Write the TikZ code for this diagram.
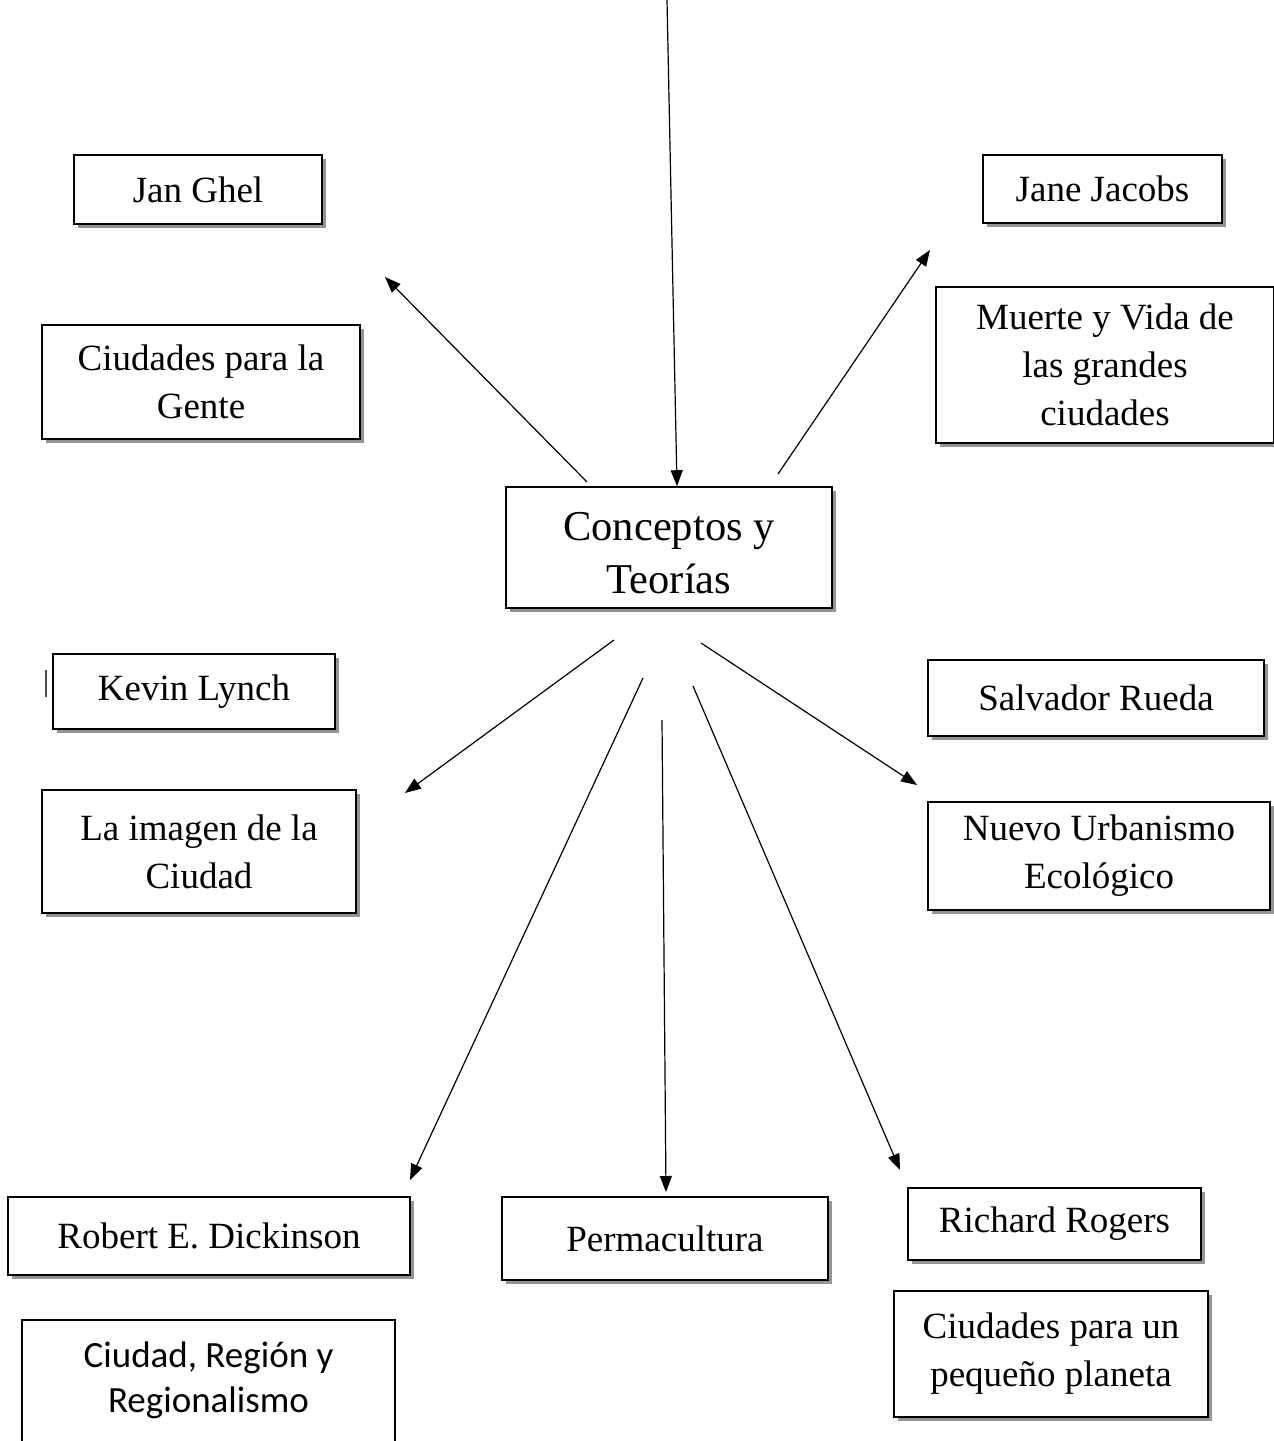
\documentclass[tikz,border=0pt]{standalone}
\usepackage{fontspec}
\setmainfont{Liberation Serif}
\newfontfamily\calibri{Carlito}
\usetikzlibrary{arrows.meta,shadows}

\begin{document}
\begin{tikzpicture}[x=1pt, y=-1pt,
  cbox/.style={draw, line width=1.6pt, fill=white, align=center, inner sep=0pt,
    font=\fontsize{37}{48}\selectfont,
    drop shadow={shadow xshift=4pt, shadow yshift=-4pt, fill=black!70, opacity=0.6}},
  plainbox/.style={draw, line width=1.6pt, fill=white, align=center, inner sep=0pt,
    font=\calibri\fontsize{37}{45}\selectfont},
  link/.style={line width=1.2pt, -{Triangle[length=16pt, width=12pt]}}]
\useasboundingbox (0,0) rectangle (1274,1441);
\node[cbox, minimum width=326, minimum height=121, font=\fontsize{42.5}{53}\selectfont] (cpt) at (669,547.5) {\raisebox{-9pt}[\height][\depth]{\begin{tabular}{@{}c@{}}Conceptos y\\Teorías\end{tabular}}};
\node[cbox, minimum width=248, minimum height=69] (jan) at (198,189.5) {Jan Ghel};
\node[cbox, minimum width=318, minimum height=114] (gente) at (201,382) {Ciudades para la\\Gente};
\node[cbox, minimum width=239, minimum height=68] (jane) at (1102.5,189) {Jane Jacobs};
\node[cbox, minimum width=338, minimum height=156] (muerte) at (1105,365) {Muerte y Vida de\\las grandes\\ciudades};
\node[cbox, minimum width=282, minimum height=75] (kevin) at (194,691.5) {Kevin Lynch};
\node[cbox, minimum width=314, minimum height=123] (imagen) at (199,851.5) {La imagen de la\\Ciudad};
\node[cbox, minimum width=336, minimum height=76] (rueda) at (1096,698) {Salvador Rueda};
\node[cbox, minimum width=342, minimum height=108] (nuevo) at (1099,856) {Nuevo Urbanismo\\Ecológico};
\node[cbox, minimum width=402, minimum height=78] (robert) at (209,1236) {Robert E. Dickinson};
\node[cbox, minimum width=326, minimum height=83] (perma) at (665,1238.5) {Permacultura};
\node[cbox, minimum width=293, minimum height=72] (rogers) at (1054.5,1224) {Richard Rogers};
\node[cbox, minimum width=314, minimum height=126] (planeta) at (1051,1354) {Ciudades para un\\pequeño planeta};
\node[plainbox, minimum width=373, minimum height=160] (region) at (208.5,1400) {Ciudad, Región y\\Regionalismo\\\mbox{}};
\draw[line width=1.5pt, black!70] (46,670) -- (46,697);
\coordinate (top) at (667,0);
\coordinate (ul) at (587,482);
\coordinate (ulend) at (385,277);
\coordinate (ur) at (778,474);
\coordinate (urend) at (930,250);
\coordinate (l1) at (614,640);
\coordinate (l1end) at (405,793);
\coordinate (l2) at (643,678);
\coordinate (l2end) at (410,1180);
\coordinate (m) at (662,720);
\coordinate (mend) at (666,1192);
\coordinate (r2) at (693,686);
\coordinate (r2end) at (900,1170);
\coordinate (r1) at (701,643);
\coordinate (r1end) at (917,785);
\draw[link] (top) -- ([xshift=8pt]cpt.north);
\draw[link] (ul) -- (ulend);
\draw[link] (ur) -- (urend);
\draw[link] (l1) -- (l1end);
\draw[link] (l2) -- (l2end);
\draw[link] (m) -- (mend);
\draw[link] (r2) -- (r2end);
\draw[link] (r1) -- (r1end);
\end{tikzpicture}
\end{document}
